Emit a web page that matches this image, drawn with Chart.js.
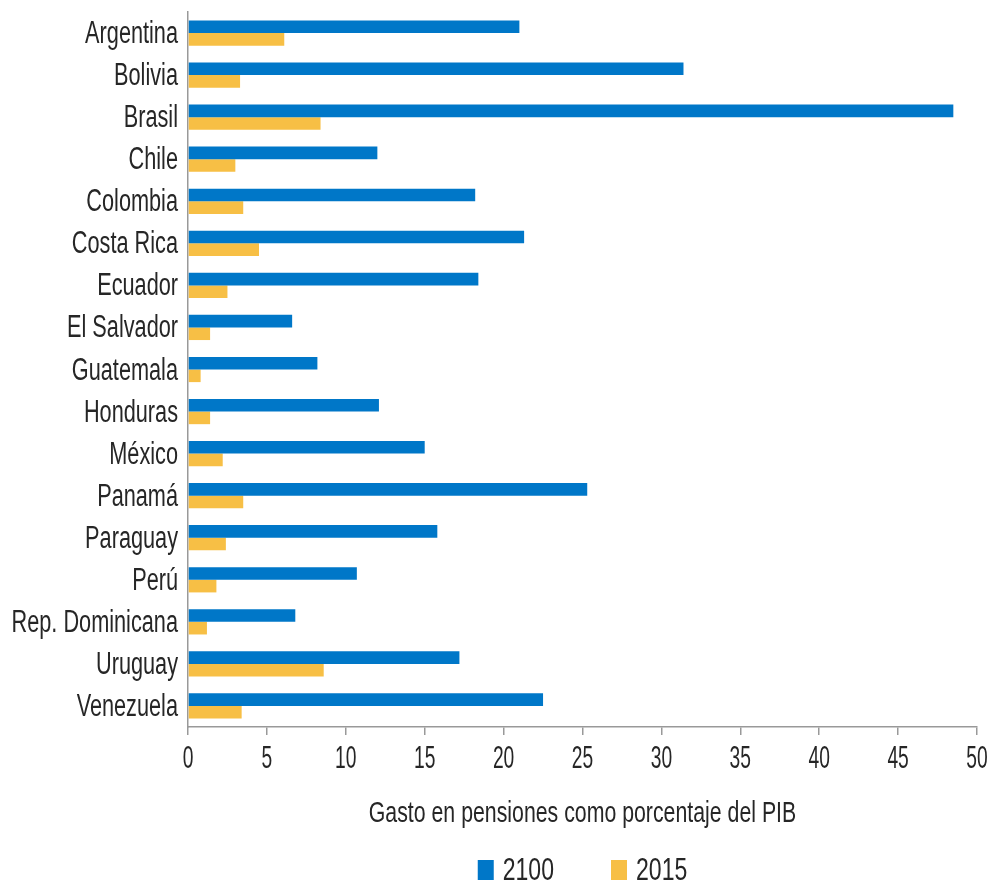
<!DOCTYPE html>
<html>
<head>
<meta charset="utf-8">
<script src="https://cdn.jsdelivr.net/npm/chart.js@4"></script>
<style>
  body { margin: 0; background: #fff; }
  #wrap { width: 990px; height: 883px; position: relative; }
</style>
</head>
<body>
<div id="wrap"><canvas id="chart"></canvas></div>
<script>
const countries = ['Argentina', 'Bolivia', 'Brasil', 'Chile', 'Colombia', 'Costa Rica', 'Ecuador',
  'El Salvador', 'Guatemala', 'Honduras', 'México', 'Panamá', 'Paraguay', 'Perú',
  'Rep. Dominicana', 'Uruguay', 'Venezuela'];
const gasto2100 = [21.0, 31.4, 48.5, 12.0, 18.2, 21.3, 18.4, 6.6, 8.2, 12.1, 15.0, 25.3, 15.8, 10.7, 6.8, 17.2, 22.5];
const gasto2015 = [6.1, 3.3, 8.4, 3.0, 3.5, 4.5, 2.5, 1.4, 0.8, 1.4, 2.2, 3.5, 2.4, 1.8, 1.2, 8.6, 3.4];
const xTicks = [0, 5, 10, 15, 20, 25, 30, 35, 40, 45, 50];
const xTitle = 'Gasto en pensiones como porcentaje del PIB';

const FONT = "'Liberation Sans', Arial, sans-serif";
const TEXT = '#262626';
const AXIS = '#999';

// no narrow font available, so the labels are squeezed horizontally by hand
function narrowText(ctx, text, x, y, size, sx, align) {
  ctx.save();
  ctx.font = size + 'px ' + FONT;
  ctx.fillStyle = TEXT;
  ctx.textAlign = align;
  ctx.textBaseline = 'alphabetic';
  ctx.translate(x, y);
  ctx.scale(sx, 1);
  ctx.fillText(text, 0, 0);
  ctx.restore();
}

const narrowLabels = {
  id: 'narrowLabels',
  afterDraw(chart) {
    const ctx = chart.ctx;
    const xs = chart.scales.x, ys = chart.scales.y;
    const area = chart.chartArea;

    countries.forEach((c, i) => {
      narrowText(ctx, c, ys.right - 10, ys.getPixelForValue(i) + 10, 31, 0.7, 'right');
    });

    xTicks.forEach(v => {
      narrowText(ctx, String(v), xs.getPixelForValue(v), xs.top + 41, 31, 0.62, 'center');
    });

    narrowText(ctx, xTitle, (area.left + area.right) / 2, 822, 30, 0.71, 'center');

    // legend
    const sets = chart.data.datasets;
    const sx = 0.72, size = 32;
    ctx.save();
    ctx.font = size + 'px ' + FONT;
    const widths = sets.map(ds => ctx.measureText(ds.label).width * sx);
    ctx.restore();
    const box = 16, gap = 9, between = 57;
    let total = 0;
    widths.forEach((w, i) => { total += box + gap + w + (i < sets.length - 1 ? between : 0); });
    let x = (area.left + area.right) / 2 - total / 2;
    sets.forEach((ds, i) => {
      ctx.fillStyle = ds.backgroundColor;
      ctx.fillRect(x, 860, box, 20);
      x += box + gap;
      narrowText(ctx, ds.label, x, 880, size, sx, 'left');
      x += widths[i] + between;
    });
  }
};

new Chart(document.getElementById('chart'), {
  type: 'bar',
  data: {
    labels: countries,
    datasets: [
      { label: '2100', data: gasto2100, backgroundColor: '#0077C8' },
      { label: '2015', data: gasto2015, backgroundColor: '#F7BF45' }
    ]
  },
  options: {
    indexAxis: 'y',
    responsive: true,
    maintainAspectRatio: false,
    animation: false,
    layout: { padding: { top: 12, right: 13, left: 0, bottom: 0 } },
    datasets: { bar: { categoryPercentage: 0.6, barPercentage: 1.0 } },
    plugins: { legend: { display: false }, tooltip: { enabled: false } },
    scales: {
      x: {
        min: 0, max: 50,
        afterBuildTicks: s => { s.ticks = xTicks.map(v => ({ value: v })); },
        grid: { display: true, drawOnChartArea: false, drawTicks: true, tickLength: 8, color: AXIS, lineWidth: 1.5 },
        border: { display: true, color: AXIS, width: 1.5 },
        ticks: { display: false },
        afterFit: s => { s.height = 156; }
      },
      y: {
        grid: { display: true, drawOnChartArea: false, drawTicks: false, color: AXIS },
        border: { display: true, color: AXIS, width: 1.5 },
        ticks: { display: false },
        afterFit: s => { s.width = 188; }
      }
    }
  },
  plugins: [narrowLabels]
});
</script>
</body>
</html>
